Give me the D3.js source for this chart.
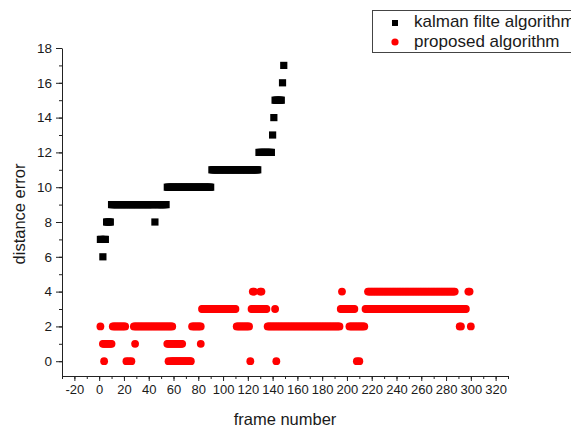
<!DOCTYPE html>
<html>
<head>
<meta charset="utf-8">
<script src="https://cdn.jsdelivr.net/npm/d3@7"></script>
<style>
  body { margin: 0; background: #fff; }
  text { font-family: "Liberation Sans", Arial, sans-serif; fill: #1a1a1a; }
</style>
</head>
<body>
<svg id="chart" width="571" height="427"></svg>
<script>
// Values: frame numbers grouped by distance-error level
const kalmanLevels = [6, 7, 8, 9, 10, 11, 12, 13, 14, 15, 16, 17];
const kalmanFrames = [
  [3],
  [1, 2, 4, 5],
  [6, 7, 8, 9, 45],
  [10, 11, 12, 13, 14, 15, 16, 17, 18, 19, 20, 21, 22, 23, 24, 25, 26, 27, 28, 29, 30, 31, 32, 33, 34, 35, 36, 37, 38, 39, 40, 41, 42, 43, 44, 46, 47, 48, 49, 50, 51, 52, 53, 54],
  [55, 56, 57, 58, 59, 60, 61, 62, 63, 64, 65, 66, 67, 68, 69, 70, 71, 72, 73, 74, 75, 76, 77, 78, 79, 80, 81, 82, 83, 84, 85, 86, 87, 88, 89, 90],
  [91, 92, 93, 94, 95, 96, 97, 98, 99, 100, 101, 102, 103, 104, 105, 106, 107, 108, 109, 110, 111, 112, 113, 114, 115, 116, 117, 118, 119, 120, 121, 122, 123, 124, 125, 126, 127, 128],
  [129, 130, 131, 132, 133, 134, 135, 136, 137, 138, 139],
  [140],
  [141],
  [142, 143, 144, 145, 146, 147],
  [148],
  [149]
];

const proposedLevels = [0, 1, 2, 3, 4];
const proposedFrames = [
  [4, 22, 24, 26, 56, 58, 59, 60, 61, 62, 63, 64, 65, 66, 67, 68, 69, 70, 71, 72, 73, 74, 122, 143, 208, 210],
  [3, 4, 5, 6, 7, 8, 9, 10, 29, 55, 56, 57, 58, 59, 60, 61, 62, 63, 64, 65, 66, 67, 82],
  [1, 11, 12, 13, 14, 15, 16, 17, 18, 19, 20, 21,
   28, 29, 30, 31, 32, 33, 34, 35, 36, 37, 38, 39, 40, 41, 42, 43, 44, 45, 46, 47, 48, 49, 50, 51, 52, 53, 54, 55, 56, 57, 58, 59,
   75, 76, 77, 78, 79, 80, 81, 82,
   111, 112, 113, 114, 115, 116, 117, 118, 119, 120, 121,
   136, 137, 138, 139, 140, 141, 142, 143, 144, 145, 146, 147, 148, 149, 150, 151, 152, 153, 154, 155, 156, 157, 158, 159, 160, 161, 162, 163, 164, 165, 166, 167, 168, 169, 170, 171, 172, 173, 174, 175, 176, 177, 178, 179, 180, 181, 182, 183, 184, 185, 186, 187, 188, 189, 190, 191, 192, 193, 194,
   202, 203, 204, 205, 206, 207, 208, 209, 210, 211, 212, 213, 214,
   291, 292, 300],
  [83, 84, 85, 86, 87, 88, 89, 90, 91, 92, 93, 94, 95, 96, 97, 98, 99, 100, 101, 102, 103, 104, 105, 106, 107, 108, 109, 110,
   123, 124, 125, 126, 127, 128, 129, 130, 131, 132, 133, 134, 135, 142,
   195, 196, 197, 198, 199, 200, 201, 202, 203, 204, 205, 206,
   215, 216, 217, 218, 219, 220, 221, 222, 223, 224, 225, 226, 227, 228, 229, 230, 231, 232, 233, 234, 235, 236, 237, 238, 239, 240, 241, 242, 243, 244, 245, 246, 247, 248, 249, 250, 251, 252, 253, 254, 255, 256, 257, 258, 259, 260, 261, 262, 263, 264, 265, 266, 267, 268, 269, 270, 271, 272, 273, 274, 275, 276, 277, 278, 279, 280, 281, 282, 283, 284, 285, 286, 287, 288, 289, 290, 291, 292, 293, 294, 295, 296],
  [124, 125, 130, 131, 196,
   217, 218, 219, 220, 221, 222, 223, 224, 225, 226, 227, 228, 229, 230, 231, 232, 233, 234, 235, 236, 237, 238, 239, 240, 241, 242, 243, 244, 245, 246, 247, 248, 249, 250, 251, 252, 253, 254, 255, 256, 257, 258, 259, 260, 261, 262, 263, 264, 265, 266, 267, 268, 269, 270, 271, 272, 273, 274, 275, 276, 277, 278, 279, 280, 281, 282, 283, 284, 285, 286, 287,
   298, 299]
];

const xTicks = [-20, 0, 20, 40, 60, 80, 100, 120, 140, 160, 180, 200, 220, 240, 260, 280, 300, 320];
const yTicks = [0, 2, 4, 6, 8, 10, 12, 14, 16, 18];
const seriesNames = ['kalman filte algorithm', 'proposed algorithm'];

const svg = d3.select('#chart');

// flatten level groups into points
const toPoints = (levels, frames) =>
  levels.flatMap((lv, i) => frames[i].map(f => ({ frame: f, err: lv })));
const kalman = toPoints(kalmanLevels, kalmanFrames);
const proposed = toPoints(proposedLevels, proposedFrames);

const xScale = d3.scaleLinear().domain([-30, 330]).range([62, 508]);
const yScale = d3.scaleLinear().domain([-0.85, 18]).range([376, 48]);

// x axis: major + minor ticks (plain hyphen for negatives, like the original)
const xAxisG = svg.append('g')
  .attr('transform', `translate(0,${yScale(-0.85)})`)
  .call(d3.axisBottom(xScale).tickValues(xTicks).tickFormat(d => String(d))
    .tickSize(5).tickSizeOuter(0).tickPadding(4));
svg.append('g')
  .attr('transform', `translate(0,${yScale(-0.85)})`)
  .call(d3.axisBottom(xScale).tickValues(d3.range(-30, 331, 10)).tickSize(3).tickFormat(''))
  .select('.domain').remove();

const yAxisG = svg.append('g')
  .attr('transform', `translate(${xScale(-30)},0)`)
  .call(d3.axisLeft(yScale).tickValues(yTicks).tickSize(6).tickSizeOuter(0).tickPadding(4));
svg.append('g')
  .attr('transform', `translate(${xScale(-30)},0)`)
  .call(d3.axisLeft(yScale).tickValues(d3.range(0, 18, 1)).tickSize(3).tickFormat(''))
  .select('.domain').remove();

svg.selectAll('.domain, .tick line').attr('stroke', '#222');
xAxisG.selectAll('text').style('font-size', '13px').attr('fill', '#1a1a1a');
yAxisG.selectAll('text').style('font-size', '13.5px').attr('fill', '#1a1a1a');

// axis titles
svg.append('text')
  .attr('x', 285).attr('y', 425)
  .attr('text-anchor', 'middle')
  .style('font-size', '16.5px')
  .text('frame number');
svg.append('text')
  .attr('transform', 'translate(25,214) rotate(-90)')
  .attr('text-anchor', 'middle')
  .style('font-size', '16.5px')
  .text('distance error');

// marks
svg.append('g').selectAll('circle').data(proposed)
  .enter().append('circle')
    .attr('cx', d => xScale(d.frame))
    .attr('cy', d => yScale(d.err))
    .attr('r', 3.9)
    .attr('fill', '#ff0000');

svg.append('g').selectAll('rect').data(kalman)
  .enter().append('rect')
    .attr('x', d => xScale(d.frame) - 3.6)
    .attr('y', d => yScale(d.err) - 3.6)
    .attr('width', 7.2)
    .attr('height', 7.2)
    .attr('fill', '#000');

// legend
const legend = svg.append('g');
legend.append('rect')
  .attr('x', 372.5).attr('y', 10.5)
  .attr('width', 220).attr('height', 42)
  .attr('fill', '#fff').attr('stroke', '#444');
legend.append('rect')
  .attr('x', 392).attr('y', 20).attr('width', 6).attr('height', 6)
  .attr('fill', '#000');
legend.append('circle')
  .attr('cx', 395).attr('cy', 42).attr('r', 3.6)
  .attr('fill', '#ff0000');
legend.selectAll('text.lbl').data(seriesNames)
  .enter().append('text')
    .attr('class', 'lbl')
    .attr('x', 414)
    .attr('y', (d, i) => 27 + i * 19.5)
    .style('font-size', '17px')
    .text(d => d);
</script>
</body>
</html>
